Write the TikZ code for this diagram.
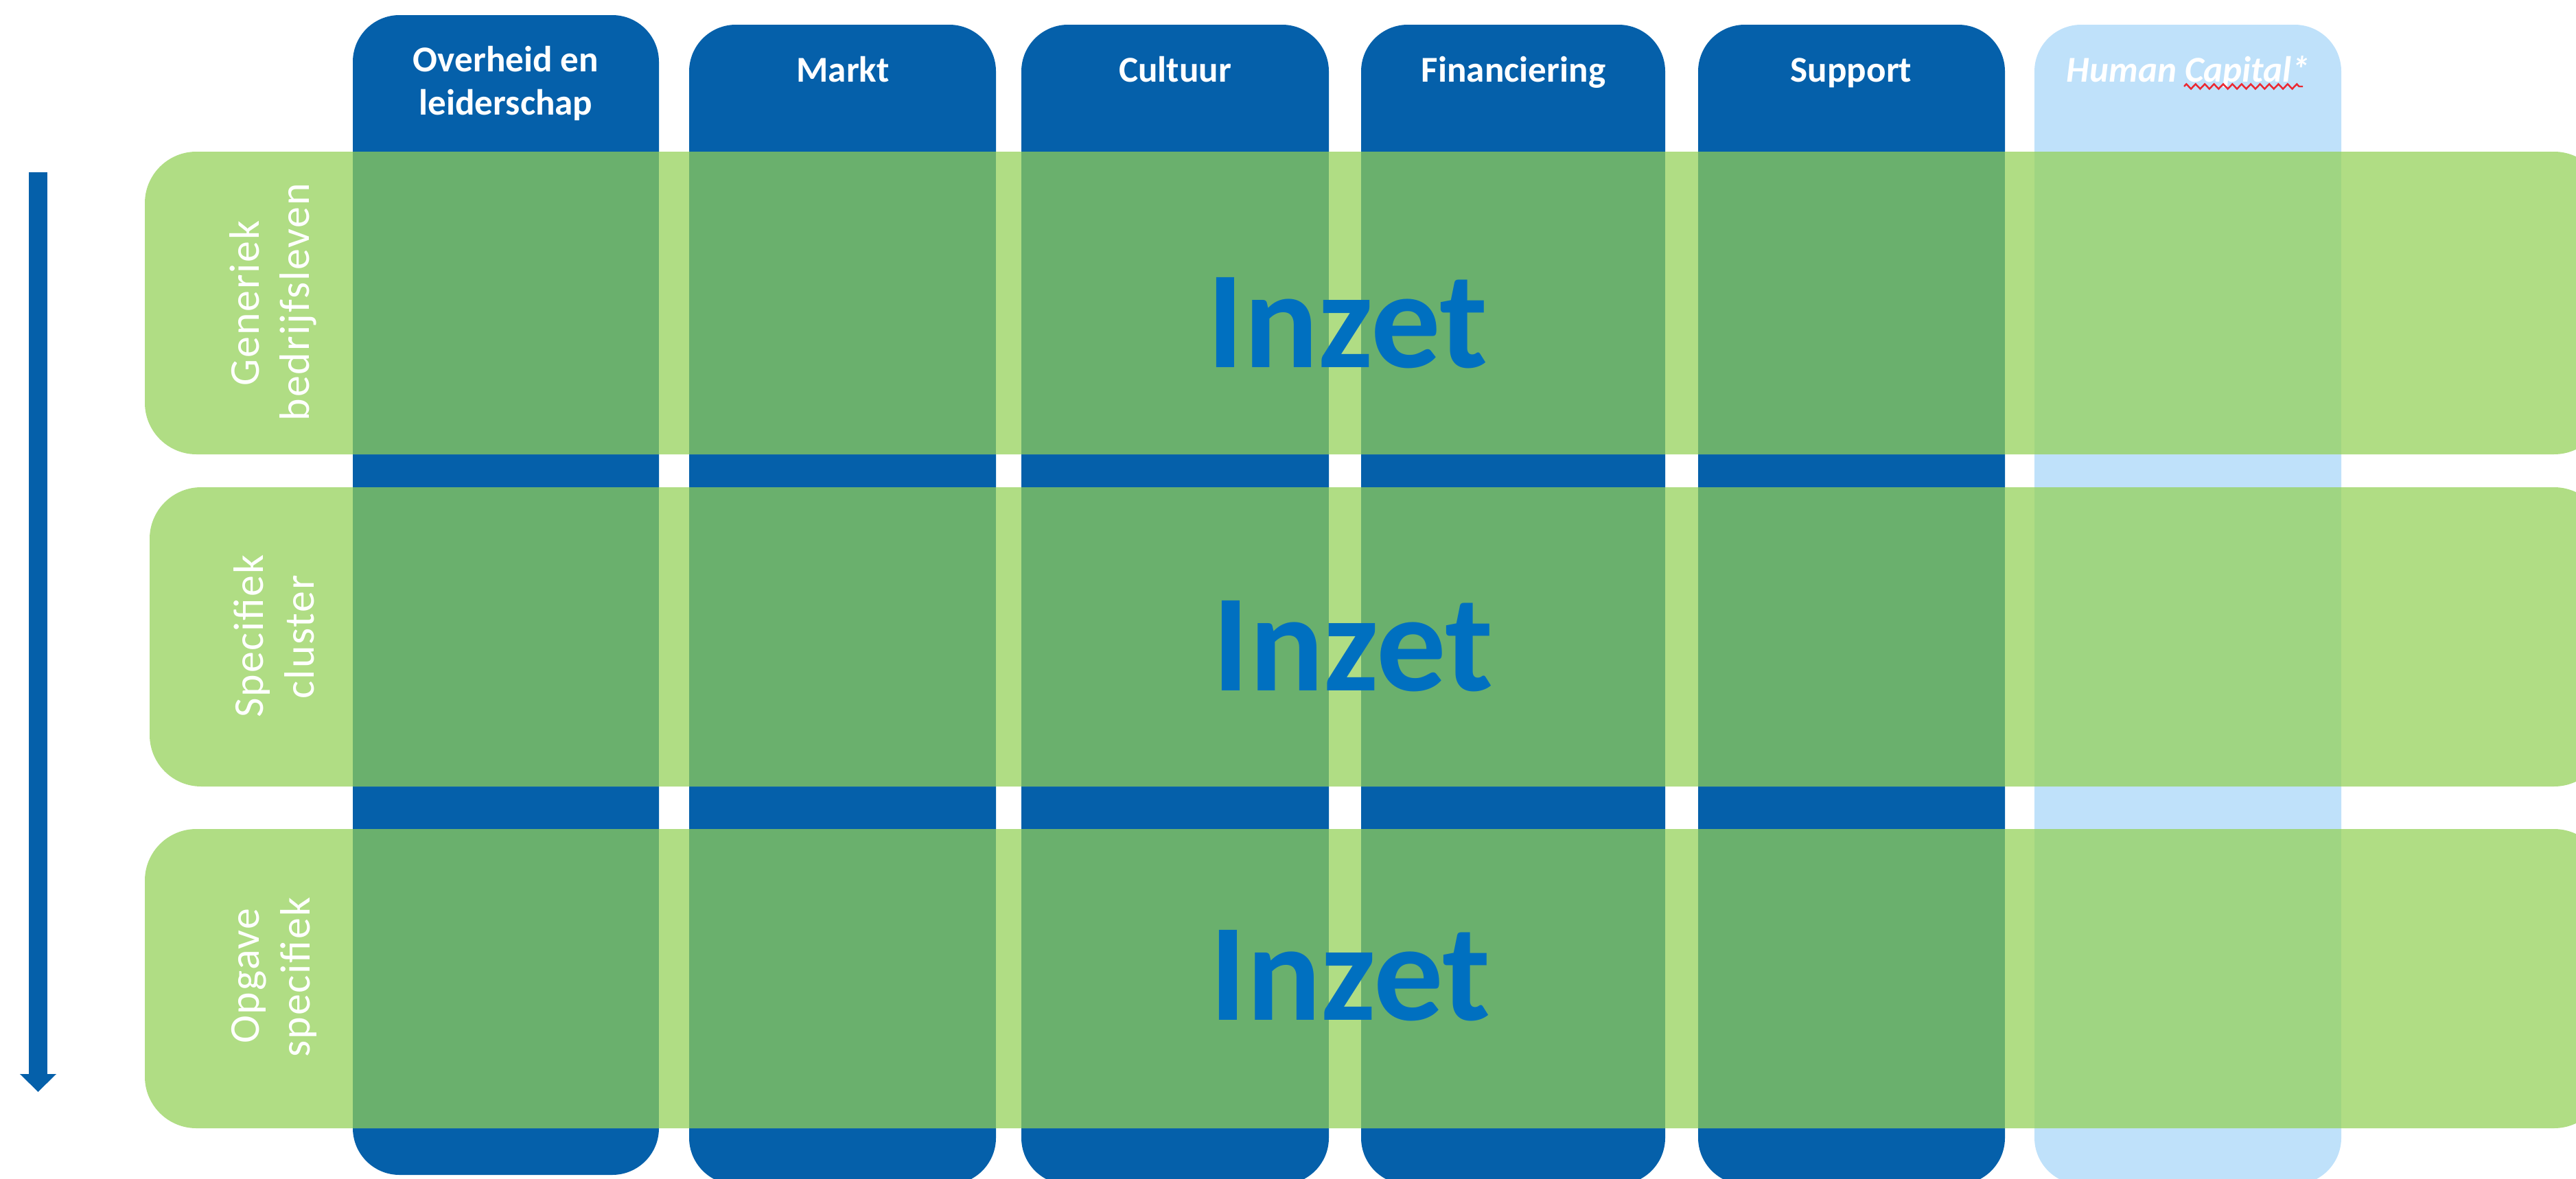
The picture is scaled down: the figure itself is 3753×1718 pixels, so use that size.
\documentclass[tikz,border=0pt]{standalone}
\usepackage{fontspec}
\setmainfont{Carlito}
\newfontfamily\lblfont[LetterSpace=3]{Carlito}
\usetikzlibrary{arrows.meta,decorations.pathmorphing}
\definecolor{colblue}{RGB}{5,96,170}
\definecolor{hcblue}{RGB}{191,225,250}
\definecolor{rowgreen}{RGB}{176,221,132}
\definecolor{cellgreen}{RGB}{106,176,109}
\definecolor{hcgreen}{RGB}{159,213,130}
\definecolor{inzetblue}{RGB}{0,112,192}
\definecolor{spellred}{RGB}{235,40,50}
\begin{document}
\begin{tikzpicture}[x=0.01cm,y=-0.01cm,
  colbox/.style={rounded corners=0.68cm},
  rowbox/.style={fill=rowgreen,rounded corners=0.75cm},
  hdr/.style={text=white,inner sep=0pt,anchor=base,font=\fontsize{15.1}{18}\selectfont\bfseries},
  rowlbl/.style={text=white,inner sep=0pt,anchor=base,rotate=90,font=\lblfont\fontsize{17.6}{21}\selectfont},
  inzet/.style={text=inzetblue,inner sep=0pt,anchor=base,font=\fontsize{57.5}{62}\selectfont\bfseries}]
\useasboundingbox (0,0) rectangle (3753,1718);
% columns
\foreach \l/\r/\t/\b/\c in {514/960/22/1712/colblue,1004/1451/36/1726/colblue,1488/1936/36/1726/colblue,1983/2426/36/1726/colblue,2474/2921/36/1726/colblue,2964/3411/36/1726/hcblue}
  \fill[colbox,\c] (\l,\t) rectangle (\r,\b);
% rows
\foreach \l/\t/\b in {211/221/662,218/710/1146,211/1208/1644}{
  \fill[rowbox] (\l,\t) rectangle (3796,\b);
  \foreach \cl/\cr/\cc in {514/960/cellgreen,1004/1451/cellgreen,1488/1936/cellgreen,1983/2426/cellgreen,2474/2921/cellgreen,2964/3411/hcgreen}
    \fill[\cc] (\cl,\t) rectangle (\cr,\b);
}
% headers
\node[hdr] (h1a) at (737,104) {Overheid en};
\node[hdr] (h1b) at (737,167) {leiderschap};
\node[hdr] (h2) at (1228,119) {Markt};
\node[hdr] (h3) at (1712,119) {Cultuur};
\node[hdr] (h4) at (2205,119) {Financiering};
\node[hdr] (h5) at (2697,119) {Support};
\node[hdr,font=\fontsize{15.1}{18}\selectfont\bfseries\itshape] (h6) at (3188,119) {Human Capital*};
\coordinate (wA) at (3182,126);
\coordinate (wB) at (3355,126);
\draw[spellred,line width=0.7pt,decorate,decoration={zigzag,segment length=0.134cm,amplitude=0.035cm}] (wA) -- (wB);
% row labels
\node[rowlbl] (r1a) at (377,442) {Generiek};
\node[rowlbl] (r1b) at (450,440) {bedrijfsleven};
\node[rowlbl] (r2a) at (383,927) {Specifiek};
\node[rowlbl] (r2b) at (457,928) {cluster};
\node[rowlbl] (r3a) at (377,1422) {Opgave};
\node[rowlbl] (r3b) at (451,1424) {specifiek};
% Inzet
\node[inzet] (i1) at (1963,535) {Inzet};
\node[inzet] (i2) at (1971,1006) {Inzet};
\node[inzet] (i3) at (1967,1486) {Inzet};
% arrow
\coordinate (aTop) at (55.5,251);
\coordinate (aTip) at (55.5,1591);
\draw[colblue,line width=0.27cm,-{Triangle[width=0.53cm,length=0.26cm,line width=0pt]}] (aTop) -- (aTip);
\end{tikzpicture}
\end{document}
